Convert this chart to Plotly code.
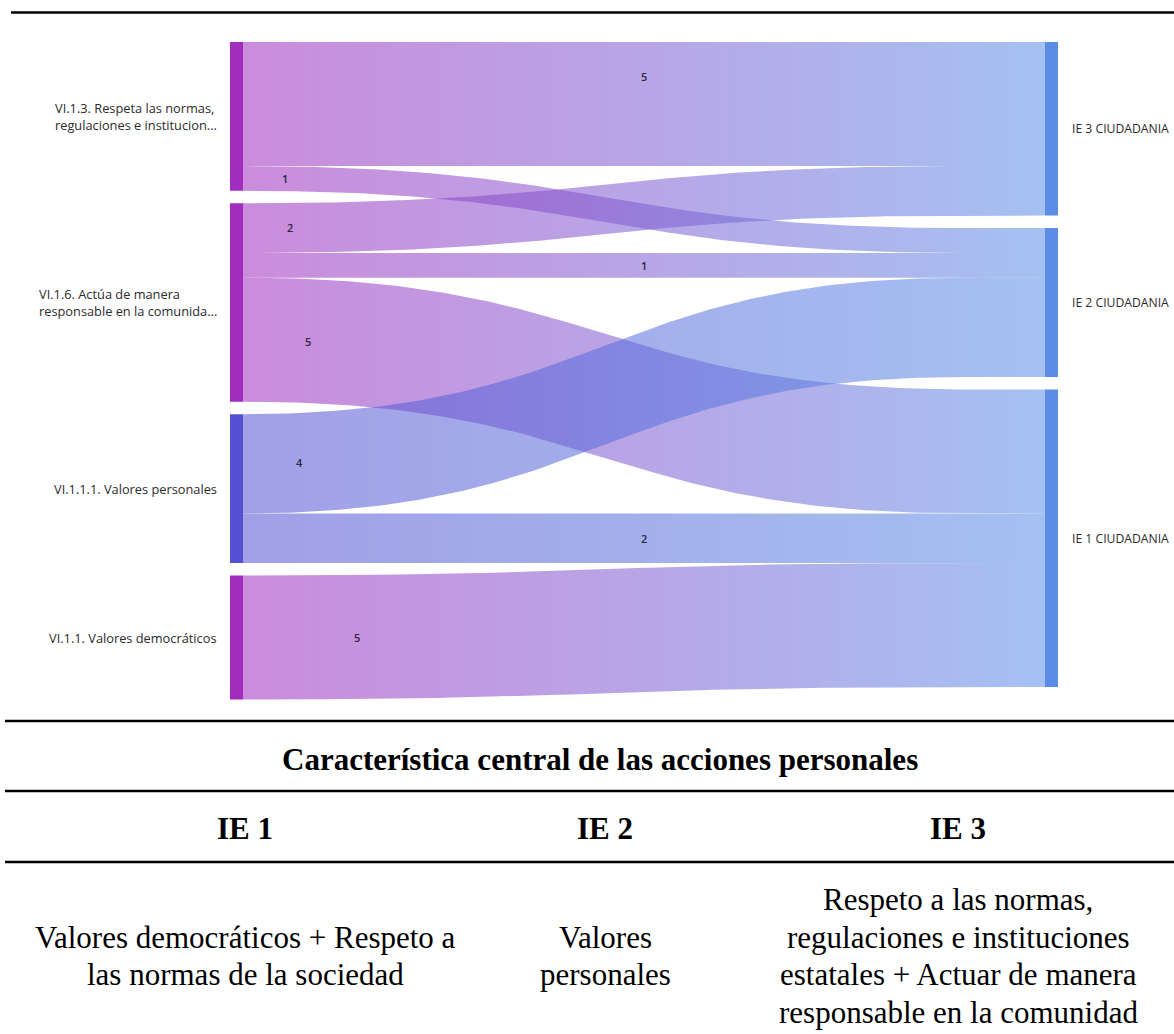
import numpy as np
import plotly.graph_objects as go

# ---- data -------------------------------------------------------------
source_names = [
    "VI.1.3. Respeta las normas,<br>regulaciones e institucion...",
    "VI.1.6. Actúa de manera<br>responsable en la comunida...",
    "VI.1.1.1. Valores personales",
    "VI.1.1. Valores democráticos",
]
target_names = ["IE 3 CIUDADANIA", "IE 2 CIUDADANIA", "IE 1 CIUDADANIA"]

link_source = [0, 0, 1, 1, 1, 2, 2, 3]
link_target = [0, 1, 0, 1, 2, 1, 2, 2]
link_value = [5, 1, 2, 1, 5, 4, 2, 5]

table_title = "Característica central de las acciones personales"
table_headers = ["IE 1", "IE 2", "IE 3"]
table_cells = [
    ["Valores democráticos + Respeto a", "las normas de la sociedad"],
    ["Valores", "personales"],
    ["Respeto a las normas,", "regulaciones e instituciones",
     "estatales + Actuar de manera", "responsable en la comunidad"],
]

# ---- styling ----------------------------------------------------------
W, H = 1174, 1034
X_LEFT, X_RIGHT, NODE_W = 230, 1045, 13
TOP, UNIT, PAD = 42, 24.8, 12.5
CURVE_FRAC = 0.9          # links bend over this share of the gap, then run flat into the target
source_colors = [(160, 45, 190), (160, 45, 190), (85, 80, 210), (160, 45, 190)]
target_color = (91, 141, 230)
LINK_ALPHA = 0.55
# where each value label sits along its link (fraction of width, fraction of band)
label_t = [0.5, 0.052, 0.059, 0.5, 0.081, 0.071, 0.5, 0.142]
label_v = [0.28, 0.5, 0.5, 0.5, 0.5, 0.5, 0.5, 0.5]

SANS = "Open Sans"
SERIF = "Liberation Serif"
RULES_Y = [12.5, 721, 791, 862]
col_centers = [245, 605, 958]
TITLE_X, TITLE_Y, HEADER_Y, BODY_Y, BODY_STEP = 600, 759, 828, 956, 37.5
TABLE_FONT = 31


def rgb(c, a=1.0):
    return f"rgba({c[0]},{c[1]},{c[2]},{a})"


# ---- sankey layout ----------------------------------------------------
n_src, n_tgt = len(source_names), len(target_names)
src_tot = [sum(v for s, v in zip(link_source, link_value) if s == i) for i in range(n_src)]
tgt_tot = [sum(v for t, v in zip(link_target, link_value) if t == j) for j in range(n_tgt)]
src_top = [TOP + sum(src_tot[:i]) * UNIT + i * PAD for i in range(n_src)]
tgt_top = [TOP + sum(tgt_tot[:j]) * UNIT + j * PAD for j in range(n_tgt)]

idx = range(len(link_value))
left_off, right_off = {}, {}
for i in range(n_src):
    acc = src_top[i]
    for k in sorted([k for k in idx if link_source[k] == i], key=lambda k: link_target[k]):
        left_off[k] = acc
        acc += link_value[k] * UNIT
for j in range(n_tgt):
    acc = tgt_top[j]
    for k in sorted([k for k in idx if link_target[k] == j], key=lambda k: link_source[k]):
        right_off[k] = acc
        acc += link_value[k] * UNIT

x0, x1 = X_LEFT + NODE_W, X_RIGHT
xc = x0 + CURVE_FRAC * (x1 - x0)
xm = (x0 + xc) / 2
tt = np.linspace(0, 1, 140)


def bez(p0, p1, p2, p3):
    return ((1 - tt) ** 3) * p0 + 3 * ((1 - tt) ** 2) * tt * p1 + 3 * (1 - tt) * tt ** 2 * p2 + tt ** 3 * p3


bx = np.append(bez(x0, xm, xm, xc), x1)


def edge(ya, yb):
    return np.append(bez(ya, ya, yb, yb), yb)


fig = go.Figure()
annotations = []

for k in idx:
    h = link_value[k] * UNIT
    ya, yb = left_off[k], right_off[k]
    top = edge(ya, yb)
    bot = edge(ya + h, yb + h)
    xs = np.concatenate([bx, bx[::-1], bx[:1]])
    ys = np.concatenate([top, bot[::-1], top[:1]])
    c0 = rgb(source_colors[link_source[k]], LINK_ALPHA)
    c1 = rgb(target_color, LINK_ALPHA)
    fig.add_trace(go.Scatter(
        x=xs, y=ys, mode="lines", line=dict(width=0), fill="toself",
        fillgradient=dict(type="horizontal", colorscale=[[0, c0], [1, c1]], start=x0, stop=x1),
        hoverinfo="skip", showlegend=False,
    ))
    lx = x0 + label_t[k] * (x1 - x0)
    ly = np.interp(lx, bx, top) + label_v[k] * h
    annotations.append(dict(x=lx, y=ly, text=str(link_value[k]), showarrow=False,
                            font=dict(family=SANS, size=11, color="#2a2640", weight=600),
                            xanchor="center", yanchor="middle"))


def rect(xa, xb, ya, yb, color):
    fig.add_trace(go.Scatter(
        x=[xa, xb, xb, xa, xa], y=[ya, ya, yb, yb, ya], mode="lines",
        line=dict(width=0), fill="toself", fillcolor=color,
        hoverinfo="skip", showlegend=False,
    ))


for i in range(n_src):
    ya = src_top[i]
    yb = ya + src_tot[i] * UNIT
    rect(X_LEFT, X_LEFT + NODE_W, ya, yb, rgb(source_colors[i]))
    annotations.append(dict(x=X_LEFT - 11, y=(ya + yb) / 2, text=source_names[i], showarrow=False,
                            xanchor="right", yanchor="middle", align="left",
                            font=dict(family=SANS, size=12.8, color="#2b2b2b")))

for j in range(n_tgt):
    ya = tgt_top[j]
    yb = ya + tgt_tot[j] * UNIT
    rect(X_RIGHT, X_RIGHT + NODE_W, ya, yb, rgb(target_color))
    annotations.append(dict(x=X_RIGHT + NODE_W + 12, y=(ya + yb) / 2, text=target_names[j],
                            showarrow=False, xanchor="left", yanchor="middle",
                            font=dict(family=SANS, size=12.2, color="#2b2b2b")))

# ---- summary table below the diagram -----------------------------------
shapes = []
for k, y in enumerate(RULES_Y):
    shapes.append(dict(type="line", xref="x", yref="y", x0=11 if k == 0 else 5, x1=W,
                       y0=y, y1=y, line=dict(color="black", width=2.5)))

annotations.append(dict(x=TITLE_X, y=TITLE_Y, text=f"<b>{table_title}</b>", showarrow=False,
                        xanchor="center", yanchor="middle",
                        font=dict(family=SERIF, size=TABLE_FONT, color="black")))
for c, head in enumerate(table_headers):
    annotations.append(dict(x=col_centers[c], y=HEADER_Y, text=f"<b>{head}</b>", showarrow=False,
                            xanchor="center", yanchor="middle",
                            font=dict(family=SERIF, size=TABLE_FONT, color="black")))
    lines = table_cells[c]
    for n, line in enumerate(lines):
        annotations.append(dict(x=col_centers[c], y=BODY_Y + (n - (len(lines) - 1) / 2) * BODY_STEP,
                                text=line, showarrow=False, xanchor="center", yanchor="middle",
                                font=dict(family=SERIF, size=TABLE_FONT, color="black")))

fig.update_layout(
    width=W, height=H, margin=dict(l=0, r=0, t=0, b=0),
    paper_bgcolor="white", plot_bgcolor="white", showlegend=False,
    xaxis=dict(range=[0, W], visible=False, fixedrange=True),
    yaxis=dict(range=[H, 0], visible=False, fixedrange=True),
    annotations=annotations, shapes=shapes,
)

fig.write_html("out.html")
